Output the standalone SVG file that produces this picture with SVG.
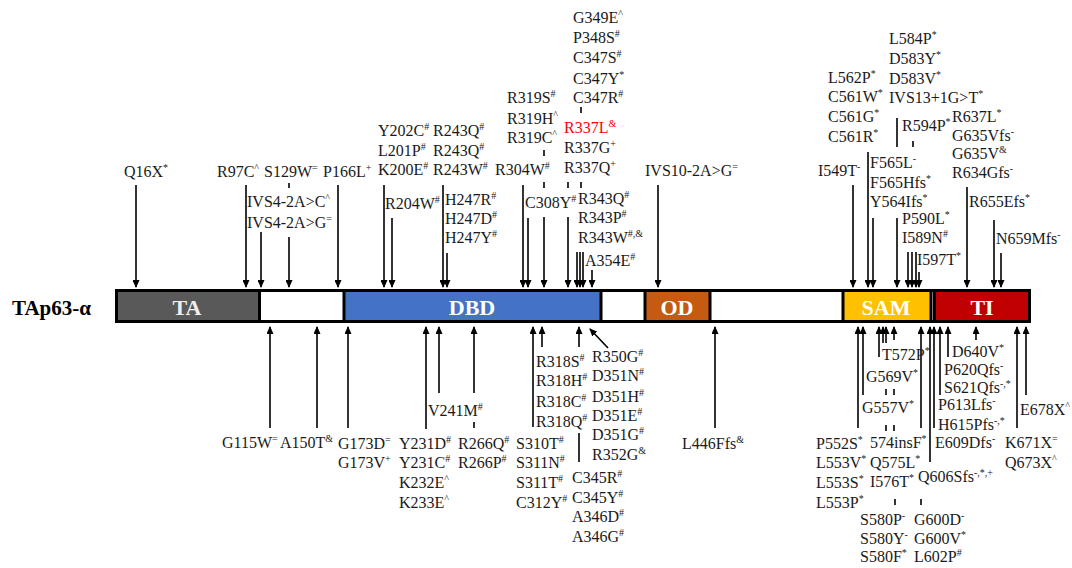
<svg xmlns="http://www.w3.org/2000/svg" width="1072" height="568" viewBox="0 0 1072 568">
<style>
text{font-family:"Liberation Serif","Times New Roman",serif;font-size:16px;fill:#1a1a1a}
.s{font-size:10px}
.red{fill:#ff0000}
.dom{font-weight:bold;font-size:22px;fill:#ffffff;text-anchor:middle}
.title{font-weight:bold;font-size:21px;fill:#000}
.ar{stroke:#000;stroke-width:1.6;fill:none;marker-end:url(#ah)}
.tk{stroke:#000;stroke-width:1.6;fill:none}
.seg{stroke:#000;stroke-width:3}
</style>
<defs>
<marker id="ah" markerUnits="userSpaceOnUse" viewBox="0 0 8 7" refX="7" refY="3.5" markerWidth="8" markerHeight="7" orient="auto">
<path d="M0,0 L8,3.5 L0,7 z" fill="#000"/>
</marker>
</defs>
<rect width="1072" height="568" fill="#fff"/>

<g id="protein">
<text class="title" x="12" y="315">TAp63-α</text>
<rect x="116.5" y="290.5" width="913" height="31" fill="#fff" class="seg"/>
<g id="dom-TA"><rect x="116.5" y="290.5" width="143" height="31" fill="#595959" class="seg"/><text class="dom" x="187" y="315" style="fill:#eeeeee">TA</text></g>
<g id="dom-DBD"><rect x="344" y="290.5" width="257" height="31" fill="#4472C4" class="seg"/><text class="dom" x="472" y="315">DBD</text></g>
<g id="dom-OD"><rect x="645" y="290.5" width="65" height="31" fill="#C55A11" class="seg"/><text class="dom" x="677" y="315">OD</text></g>
<g id="dom-SAM"><rect x="843" y="290.5" width="88" height="31" fill="#FFC000" class="seg"/><text class="dom" x="886" y="315">SAM</text></g>
<g id="dom-TI"><rect x="934.5" y="290.5" width="95" height="31" fill="#C00000" class="seg"/><text class="dom" x="982" y="315">TI</text></g>
</g>

<g id="connectors">
<!-- top arrows -->
<line class="ar" x1="136" y1="185" x2="136" y2="287"/>
<line class="ar" x1="246" y1="185" x2="246" y2="287"/>
<line class="ar" x1="261" y1="232" x2="261" y2="287"/>
<line class="ar" x1="289" y1="237" x2="289" y2="287"/>
<line class="ar" x1="338" y1="185" x2="338" y2="287"/>
<line class="ar" x1="384" y1="185" x2="384" y2="287"/>
<line class="ar" x1="392" y1="218" x2="392" y2="287"/>
<line class="ar" x1="443" y1="185" x2="443" y2="287"/>
<line class="ar" x1="447" y1="253" x2="447" y2="287"/>
<line class="ar" x1="523" y1="185" x2="523" y2="287"/>
<line class="ar" x1="528" y1="218" x2="528" y2="287"/>
<line class="ar" x1="544" y1="217" x2="544" y2="287"/>
<line class="ar" x1="568" y1="217" x2="568" y2="287"/>
<line class="ar" x1="577" y1="252" x2="577" y2="287"/>
<line class="ar" x1="580" y1="252" x2="580" y2="287"/>
<line class="ar" x1="583" y1="252" x2="583" y2="287"/>
<line class="ar" x1="592" y1="270" x2="592" y2="287"/>
<line class="ar" x1="658" y1="185" x2="658" y2="287"/>
<line class="ar" x1="853" y1="185" x2="853" y2="287"/>
<line class="ar" x1="868" y1="152" x2="868" y2="287"/>
<line class="ar" x1="873" y1="218" x2="873" y2="287"/>
<line class="ar" x1="897" y1="218" x2="897" y2="287"/>
<line class="ar" x1="908" y1="252" x2="908" y2="287"/>
<line class="ar" x1="912" y1="252" x2="912" y2="287"/>
<line class="ar" x1="916" y1="252" x2="916" y2="287"/>
<line class="ar" x1="919" y1="272" x2="919" y2="287"/>
<line class="ar" x1="967" y1="187" x2="967" y2="287"/>
<line class="ar" x1="994" y1="220" x2="994" y2="287"/>
<line class="ar" x1="1001" y1="253" x2="1001" y2="287"/>
<!-- top ticks -->
<line class="tk" x1="289" y1="183" x2="289" y2="188"/>
<line class="tk" x1="544" y1="150" x2="544" y2="156"/>
<line class="tk" x1="544" y1="182" x2="544" y2="188"/>
<line class="tk" x1="568" y1="182" x2="568" y2="188"/>
<line class="tk" x1="581" y1="107" x2="581" y2="113"/>
<line class="tk" x1="581" y1="182" x2="581" y2="188"/>
<line class="tk" x1="897" y1="118" x2="897" y2="147"/>
<line class="tk" x1="913" y1="141" x2="913" y2="147"/>
<!-- bottom arrows -->
<line class="ar" x1="270" y1="428" x2="270" y2="327"/>
<line class="ar" x1="317" y1="428" x2="317" y2="327"/>
<line class="ar" x1="348" y1="428" x2="348" y2="327"/>
<line class="ar" x1="426" y1="429" x2="426" y2="327"/>
<line class="ar" x1="439" y1="393" x2="439" y2="327"/>
<line class="ar" x1="474" y1="393" x2="474" y2="327"/>
<line class="ar" x1="533" y1="427" x2="533" y2="327"/>
<line class="ar" x1="542" y1="347" x2="542" y2="327"/>
<line class="ar" x1="579" y1="347" x2="579" y2="327"/>
<line class="ar" x1="608" y1="348" x2="590" y2="329"/>
<line class="ar" x1="715" y1="428" x2="715" y2="327"/>
<line class="ar" x1="858" y1="428" x2="858" y2="327"/>
<line class="ar" x1="863" y1="395" x2="863" y2="327"/>
<line class="ar" x1="879" y1="357" x2="879" y2="327"/>
<line class="ar" x1="883" y1="343" x2="883" y2="327"/>
<line class="ar" x1="886" y1="343" x2="886" y2="327"/>
<line class="ar" x1="894" y1="340" x2="894" y2="327"/>
<line class="ar" x1="921" y1="428" x2="921" y2="327"/>
<line class="ar" x1="930" y1="462" x2="930" y2="327"/>
<line class="ar" x1="934" y1="428" x2="934" y2="327"/>
<line class="ar" x1="940" y1="395" x2="940" y2="327"/>
<line class="ar" x1="948" y1="357" x2="948" y2="327"/>
<line class="ar" x1="976" y1="340" x2="976" y2="327"/>
<line class="ar" x1="1017" y1="428" x2="1017" y2="327"/>
<line class="ar" x1="1026" y1="395" x2="1026" y2="327"/>
<!-- bottom ticks -->
<line class="tk" x1="474" y1="422" x2="474" y2="428"/>
<line class="tk" x1="579" y1="433" x2="579" y2="462"/>
<line class="tk" x1="886" y1="389" x2="886" y2="395"/>
<line class="tk" x1="894" y1="389" x2="894" y2="395"/>
<line class="tk" x1="886" y1="425" x2="886" y2="431"/>
<line class="tk" x1="894" y1="425" x2="894" y2="431"/>
<line class="tk" x1="895" y1="499" x2="895" y2="505"/>
<line class="tk" x1="921" y1="499" x2="921" y2="505"/>
</g>

<g id="labels-top">
<g id="n-Q16X"><text x="124" y="177">Q16X<tspan class="s" dy="-6">*</tspan></text></g>
<g id="n-R97C"><text x="217" y="177">R97C<tspan class="s" dy="-6">^</tspan></text></g>
<g id="n-S129W"><text x="264" y="177">S129W<tspan class="s" dy="-6">=</tspan></text></g>
<g id="n-P166L"><text x="323" y="177">P166L<tspan class="s" dy="-6">+</tspan></text></g>
<g id="n-IVS4"><text x="247" y="207">IVS4-2A&gt;C<tspan class="s" dy="-6">^</tspan></text><text x="247" y="228">IVS4-2A&gt;G<tspan class="s" dy="-6">=</tspan></text></g>
<g id="n-K200"><text x="378" y="136">Y202C<tspan class="s" dy="-6">#</tspan></text><text x="378" y="156">L201P<tspan class="s" dy="-6">#</tspan></text><text x="378" y="175">K200E<tspan class="s" dy="-6">#</tspan></text></g>
<g id="n-R243"><text x="433" y="136">R243Q<tspan class="s" dy="-6">#</tspan></text><text x="433" y="156">R243Q<tspan class="s" dy="-6">#</tspan></text><text x="433" y="175">R243W<tspan class="s" dy="-6">#</tspan></text></g>
<g id="n-R204W"><text x="385" y="209">R204W<tspan class="s" dy="-6">#</tspan></text></g>
<g id="n-H247"><text x="445" y="205">H247R<tspan class="s" dy="-6">#</tspan></text><text x="445" y="224">H247D<tspan class="s" dy="-6">#</tspan></text><text x="445" y="243">H247Y<tspan class="s" dy="-6">#</tspan></text></g>
<g id="n-R319"><text x="507" y="103">R319S<tspan class="s" dy="-6">#</tspan></text><text x="507" y="124">R319H<tspan class="s" dy="-6">^</tspan></text><text x="507" y="143">R319C<tspan class="s" dy="-6">^</tspan></text></g>
<g id="n-R304W"><text x="495" y="175">R304W<tspan class="s" dy="-6">#</tspan></text></g>
<g id="n-C308Y"><text x="525" y="208">C308Y<tspan class="s" dy="-6">#</tspan></text></g>
<g id="n-C347"><text x="573" y="23">G349E<tspan class="s" dy="-6">^</tspan></text><text x="573" y="43">P348S<tspan class="s" dy="-6">#</tspan></text><text x="573" y="63">C347S<tspan class="s" dy="-6">#</tspan></text><text x="573" y="84">C347Y<tspan class="s" dy="-6">*</tspan></text><text x="573" y="103">C347R<tspan class="s" dy="-6">#</tspan></text></g>
<g id="n-R337"><text x="564" y="133" class="red">R337L<tspan class="s red" dy="-6">&amp;</tspan></text><text x="564" y="153">R337G<tspan class="s" dy="-6">+</tspan></text><text x="564" y="173">R337Q<tspan class="s" dy="-6">+</tspan></text></g>
<g id="n-R343"><text x="578" y="204">R343Q<tspan class="s" dy="-6">#</tspan></text><text x="578" y="223">R343P<tspan class="s" dy="-6">#</tspan></text><text x="578" y="243">R343W<tspan class="s" dy="-6">#,&amp;</tspan></text></g>
<g id="n-A354E"><text x="585" y="266">A354E<tspan class="s" dy="-6">#</tspan></text></g>
<g id="n-IVS10"><text x="645" y="176">IVS10-2A&gt;G<tspan class="s" dy="-6">=</tspan></text></g>
<g id="n-I549T"><text x="818" y="176">I549T<tspan class="s" dy="-6">-</tspan></text></g>
<g id="n-C561"><text x="828" y="83">L562P<tspan class="s" dy="-6">*</tspan></text><text x="828" y="102">C561W<tspan class="s" dy="-6">*</tspan></text><text x="828" y="122">C561G<tspan class="s" dy="-6">*</tspan></text><text x="828" y="142">C561R<tspan class="s" dy="-6">*</tspan></text></g>
<g id="n-L584"><text x="889" y="44">L584P<tspan class="s" dy="-6">*</tspan></text><text x="889" y="64">D583Y<tspan class="s" dy="-6">*</tspan></text><text x="889" y="84">D583V<tspan class="s" dy="-6">*</tspan></text><text x="889" y="103">IVS13+1G&gt;T<tspan class="s" dy="-6">*</tspan></text></g>
<g id="n-R594P"><text x="902" y="131">R594P<tspan class="s" dy="-6">*</tspan></text></g>
<g id="n-R637"><text x="952" y="122">R637L<tspan class="s" dy="-6">*</tspan></text><text x="952" y="141">G635Vfs<tspan class="s" dy="-6">-</tspan></text><text x="952" y="159">G635V<tspan class="s" dy="-6">&amp;</tspan></text><text x="952" y="178">R634Gfs<tspan class="s" dy="-6">-</tspan></text></g>
<g id="n-F565"><text x="870" y="168">F565L<tspan class="s" dy="-6">-</tspan></text><text x="870" y="188">F565Hfs<tspan class="s" dy="-6">*</tspan></text><text x="870" y="207">Y564Ifs<tspan class="s" dy="-6">*</tspan></text></g>
<g id="n-P590"><text x="902" y="224">P590L<tspan class="s" dy="-6">*</tspan></text><text x="902" y="243">I589N<tspan class="s" dy="-6">#</tspan></text></g>
<g id="n-I597T"><text x="917" y="265">I597T<tspan class="s" dy="-6">*</tspan></text></g>
<g id="n-R655"><text x="969" y="207">R655Efs<tspan class="s" dy="-6">*</tspan></text></g>
<g id="n-N659"><text x="996" y="244">N659Mfs<tspan class="s" dy="-6">-</tspan></text></g>
</g>

<g id="labels-bottom">
<g id="n-G115W"><text x="222" y="448">G115W<tspan class="s" dy="-6">=</tspan></text></g>
<g id="n-A150T"><text x="280" y="448">A150T<tspan class="s" dy="-6">&amp;</tspan></text></g>
<g id="n-G173"><text x="338" y="449">G173D<tspan class="s" dy="-6">=</tspan></text><text x="338" y="468">G173V<tspan class="s" dy="-6">+</tspan></text></g>
<g id="n-V241M"><text x="428" y="416">V241M<tspan class="s" dy="-6">#</tspan></text></g>
<g id="n-Y231"><text x="399" y="449">Y231D<tspan class="s" dy="-6">#</tspan></text><text x="399" y="468">Y231C<tspan class="s" dy="-6">#</tspan></text><text x="399" y="488">K232E<tspan class="s" dy="-6">^</tspan></text><text x="399" y="508">K233E<tspan class="s" dy="-6">^</tspan></text></g>
<g id="n-R266"><text x="458" y="449">R266Q<tspan class="s" dy="-6">#</tspan></text><text x="458" y="468">R266P<tspan class="s" dy="-6">#</tspan></text></g>
<g id="n-S310"><text x="516" y="449">S310T<tspan class="s" dy="-6">#</tspan></text><text x="516" y="468">S311N<tspan class="s" dy="-6">#</tspan></text><text x="516" y="488">S311T<tspan class="s" dy="-6">#</tspan></text><text x="516" y="508">C312Y<tspan class="s" dy="-6">#</tspan></text></g>
<g id="n-R318"><text x="536" y="367">R318S<tspan class="s" dy="-6">#</tspan></text><text x="536" y="386">R318H<tspan class="s" dy="-6">#</tspan></text><text x="536" y="407">R318C<tspan class="s" dy="-6">#</tspan></text><text x="536" y="427">R318Q<tspan class="s" dy="-6">#</tspan></text></g>
<g id="n-C345"><text x="572" y="483">C345R<tspan class="s" dy="-6">#</tspan></text><text x="572" y="503">C345Y<tspan class="s" dy="-6">#</tspan></text><text x="572" y="522">A346D<tspan class="s" dy="-6">#</tspan></text><text x="572" y="542">A346G<tspan class="s" dy="-6">#</tspan></text></g>
<g id="n-R350"><text x="592" y="362">R350G<tspan class="s" dy="-6">#</tspan></text><text x="592" y="381">D351N<tspan class="s" dy="-6">#</tspan></text><text x="592" y="402">D351H<tspan class="s" dy="-6">#</tspan></text><text x="592" y="421">D351E<tspan class="s" dy="-6">#</tspan></text><text x="592" y="440">D351G<tspan class="s" dy="-6">#</tspan></text><text x="592" y="460">R352G<tspan class="s" dy="-6">&amp;</tspan></text></g>
<g id="n-L446"><text x="682" y="449">L446Ffs<tspan class="s" dy="-6">&amp;</tspan></text></g>
<g id="n-P552"><text x="816" y="449">P552S<tspan class="s" dy="-6">*</tspan></text><text x="816" y="468">L553V<tspan class="s" dy="-6">*</tspan></text><text x="816" y="488">L553S<tspan class="s" dy="-6">*</tspan></text><text x="816" y="508">L553P<tspan class="s" dy="-6">*</tspan></text></g>
<g id="n-T572P"><text x="882" y="360">T572P<tspan class="s" dy="-6">*</tspan></text></g>
<g id="n-G569V"><text x="866" y="382">G569V<tspan class="s" dy="-6">*</tspan></text></g>
<g id="n-G557V"><text x="862" y="413">G557V<tspan class="s" dy="-6">*</tspan></text></g>
<g id="n-574ins"><text x="870" y="448">574insF<tspan class="s" dy="-6">*</tspan></text><text x="870" y="468">Q575L<tspan class="s" dy="-6">*</tspan></text><text x="870" y="487">I576T<tspan class="s" dy="-6">*</tspan></text></g>
<g id="n-S580"><text x="860" y="525">S580P<tspan class="s" dy="-6">-</tspan></text><text x="860" y="544">S580Y<tspan class="s" dy="-6">-</tspan></text><text x="860" y="562">S580F<tspan class="s" dy="-6">*</tspan></text></g>
<g id="n-G600"><text x="914" y="525">G600D<tspan class="s" dy="-6">-</tspan></text><text x="914" y="544">G600V<tspan class="s" dy="-6">*</tspan></text><text x="914" y="562">L602P<tspan class="s" dy="-6">#</tspan></text></g>
<g id="n-Q606"><text x="918" y="482">Q606Sfs<tspan class="s" dy="-6">-,*,+</tspan></text></g>
<g id="n-E609"><text x="935" y="448">E609Dfs<tspan class="s" dy="-6">-</tspan></text></g>
<g id="n-P613"><text x="938" y="410">P613Lfs<tspan class="s" dy="-6">-</tspan></text><text x="938" y="430">H615Pfs<tspan class="s" dy="-6">-,*</tspan></text></g>
<g id="n-P620"><text x="944" y="375">P620Qfs<tspan class="s" dy="-6">-</tspan></text><text x="944" y="393">S621Qfs<tspan class="s" dy="-6">-,*</tspan></text></g>
<g id="n-D640V"><text x="952" y="357">D640V<tspan class="s" dy="-6">*</tspan></text></g>
<g id="n-E678X"><text x="1020" y="415">E678X<tspan class="s" dy="-6">^</tspan></text></g>
<g id="n-K671"><text x="1005" y="448">K671X<tspan class="s" dy="-6">=</tspan></text><text x="1005" y="468">Q673X<tspan class="s" dy="-6">^</tspan></text></g>
</g>
</svg>
